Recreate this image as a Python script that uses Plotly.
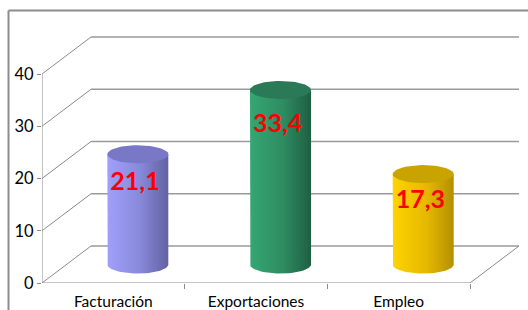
import numpy as np
import plotly.graph_objects as go

categories = ["Facturación", "Exportaciones", "Empleo"]
values = [21.1, 33.4, 17.3]
value_labels = ["21,1", "33,4", "17,3"]
y_ticks = [0, 10, 20, 30, 40]

body_scales = [
    [[0, "#a0a0fc"], [0.55, "#8888da"], [0.72, "#7878c4"], [1, "#6262a2"]],
    [[0, "#35a673"], [0.55, "#2e8c61"], [0.72, "#287a55"], [1, "#1f5f42"]],
    [[0, "#ffd400"], [0.55, "#e6b800"], [0.72, "#d4aa00"], [1, "#b38f00"]],
]
top_colors = ["#7878c6", "#2b7a57", "#c9a300"]

# perspective geometry (in axis units)
PX_X = 142.667
PX_Y = 5.225
DXB = 49 / PX_X
DYB = 37 / PX_Y
DXM, DYM = DXB / 2, DYB / 2
RX = 30.5 / PX_X
RY = 9 / PX_Y

fig = go.Figure()

grid_shapes = []
line_back = dict(color="#9a9a9a", width=1.5)
line_diag = dict(color="#8a8a8a", width=1)
for v in y_ticks:
    grid_shapes.append(dict(type="line", xref="x", yref="y", x0=-0.5, y0=v,
                            x1=-0.5 + DXB, y1=v + DYB, line=line_diag, layer="below"))
    grid_shapes.append(dict(type="line", xref="x", yref="y", x0=-0.5 + DXB, y0=v + DYB,
                            x1=len(categories) - 0.5 + DXB, y1=v + DYB, line=line_back, layer="below"))
grid_shapes.append(dict(type="line", xref="x", yref="y", x0=-0.5, y0=0,
                        x1=len(categories) - 0.5, y1=0, line=line_diag, layer="below"))
grid_shapes.append(dict(type="line", xref="x", yref="y", x0=len(categories) - 0.5, y0=0,
                        x1=len(categories) - 0.5 + DXB, y1=DYB, line=line_diag, layer="below"))
grid_shapes.append(dict(type="line", xref="x", yref="y", x0=-0.5, y0=0,
                        x1=-0.5, y1=max(y_ticks), line=line_diag, layer="below"))
# outer chart border
grid_shapes.append(dict(type="line", xref="paper", yref="paper", x0=-0.0698, y0=1.0361,
                        x1=1.02, y1=1.0361, line=dict(color="#8c8c8c", width=2)))
grid_shapes.append(dict(type="line", xref="paper", yref="paper", x0=-0.0698, y0=1.0361,
                        x1=-0.0698, y1=-0.2, line=dict(color="#8c8c8c", width=2)))

for i, (cat, v) in enumerate(zip(categories, values)):
    cx = i + DXM
    base = DYM
    top = DYM + v
    th = np.linspace(np.pi, 2 * np.pi, 40)
    bx = list(cx + RX * np.cos(th))
    by = list(base + RY * np.sin(th))
    xs = [cx - RX] + bx + [cx + RX, cx + RX, cx - RX]
    ys = [top] + by + [base, top, top]
    fig.add_trace(go.Scatter(
        x=xs, y=ys, mode="lines", fill="toself", line=dict(width=0),
        fillgradient=dict(type="horizontal", colorscale=body_scales[i]),
        hoverinfo="skip", showlegend=False))
    t2 = np.linspace(0, 2 * np.pi, 60)
    fig.add_trace(go.Scatter(
        x=cx + RX * np.cos(t2), y=top + RY * np.sin(t2), mode="lines", fill="toself",
        line=dict(width=0), fillcolor=top_colors[i], hoverinfo="skip", showlegend=False))

fig.add_trace(go.Scatter(
    x=[i + DXM - 0.02 for i in range(len(values))],
    y=[v * 0.9 for v in values],
    mode="text", text=value_labels,
    textfont=dict(family="Lato", size=25, color="#ff0000", weight="bold"),
    hoverinfo="skip", showlegend=False))

fig.update_layout(
    width=528, height=310,
    margin=dict(l=42, r=6, t=20, b=27),
    paper_bgcolor="white", plot_bgcolor="white",
    shapes=grid_shapes,
    xaxis=dict(range=[-0.5, -0.5 + 480 / PX_X], showgrid=False, zeroline=False,
               showline=False, tickvals=list(range(len(categories))), ticktext=categories,
               ticks="", tickfont=dict(family="Lato", size=15.5, color="#000"),
               automargin=False, ticklabelstandoff=7,
               minor=dict(tickvals=[i + 0.5 for i in range(len(categories))],
                          ticks="outside", ticklen=5, tickcolor="#8a8a8a", showgrid=False)),
    yaxis=dict(range=[0, 263 / PX_Y], showgrid=False, zeroline=False, showline=False,
               automargin=False,
               tickvals=y_ticks, ticks="outside", ticklen=4, tickcolor="#8a8a8a",
               tickfont=dict(family="Lato", size=16.5, color="#000")),
)

fig.write_html("out.html", config={"displayModeBar": False},
               post_script="document.body.style.margin='0';")
